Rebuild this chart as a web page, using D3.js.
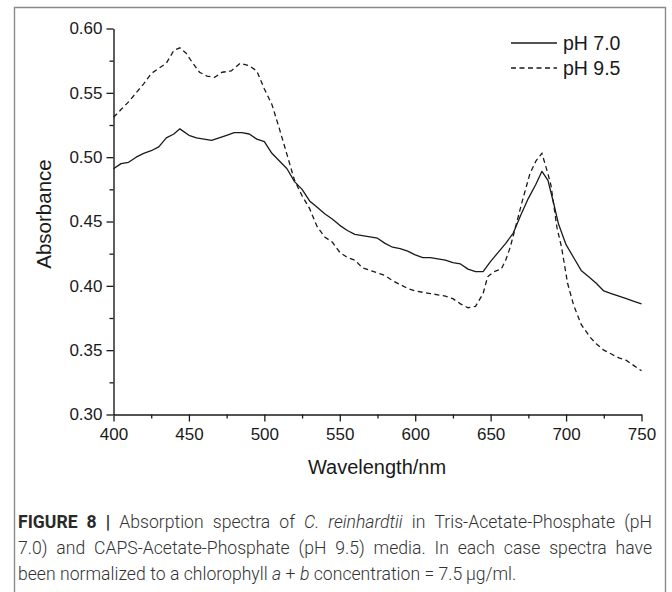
<!DOCTYPE html>
<html><head><meta charset="utf-8">
<script src="https://cdn.jsdelivr.net/npm/d3@7"></script>
<style>
body{margin:0;background:#fff;}
svg{display:block;font-family:"Liberation Sans",Arial,sans-serif;}
</style></head>
<body><svg id="c" width="672" height="592"></svg>
<script>
const wavelength7 = [400,405,410,415,420,425,430,435,440,444,450,455,460,465,470,475,480,485,490,495,500,505,510,515,520,525,530,535,540,545,550,555,560,565,570,575,580,585,590,595,600,605,610,615,620,625,630,635,640,645,650,655,660,665,670,675,680,684,688,692,695,700,705,710,715,720,725,730,735,740,745,750];
const absorb7 = [0.491,0.495,0.496,0.500,0.503,0.505,0.508,0.515,0.518,0.522,0.517,0.515,0.514,0.513,0.515,0.517,0.519,0.519,0.518,0.514,0.512,0.503,0.497,0.491,0.481,0.475,0.466,0.461,0.456,0.452,0.447,0.443,0.440,0.439,0.438,0.437,0.433,0.430,0.429,0.427,0.424,0.422,0.422,0.421,0.420,0.418,0.417,0.413,0.411,0.411,0.419,0.426,0.433,0.441,0.455,0.468,0.479,0.489,0.482,0.463,0.448,0.432,0.422,0.412,0.407,0.402,0.396,0.394,0.392,0.390,0.388,0.386];
const wavelength95 = [400,405,410,415,420,425,430,435,440,444,448,452,457,462,467,472,478,484,490,495,500,505,510,515,520,525,530,535,540,545,550,555,560,565,570,575,580,585,590,595,600,605,610,615,620,625,630,635,640,645,648,652,657,660,663,667,671,676,680,684,688,690,694,697,701,705,710,716,720,725,730,735,740,745,750];
const absorb95 = [0.531,0.537,0.543,0.550,0.557,0.565,0.569,0.573,0.583,0.585,0.581,0.574,0.566,0.563,0.562,0.566,0.567,0.573,0.571,0.567,0.553,0.541,0.522,0.502,0.482,0.470,0.460,0.446,0.438,0.434,0.426,0.422,0.420,0.414,0.412,0.410,0.408,0.404,0.401,0.398,0.396,0.395,0.394,0.393,0.392,0.390,0.386,0.383,0.384,0.394,0.407,0.411,0.413,0.420,0.430,0.448,0.466,0.487,0.497,0.503,0.487,0.478,0.445,0.430,0.402,0.385,0.370,0.360,0.355,0.350,0.347,0.344,0.342,0.338,0.334];
const xTicks = [400,450,500,550,600,650,700,750];
const yTicks = [0.30,0.35,0.40,0.45,0.50,0.55,0.60];
const seriesNames = ["pH 7.0","pH 9.5"];
const xTitle = "Wavelength/nm";
const yTitle = "Absorbance";
// caption words: [text, style] style: b=bold, i=italic, n=normal
const captionLines = [
  [["FIGURE","b"],["8","b"],["|","b"],["Absorption","n"],["spectra","n"],["of","n"],["C.","i"],["reinhardtii","i"],["in","n"],["Tris-Acetate-Phosphate","n"],["(pH","n"]],
  [["7.0)","n"],["and","n"],["CAPS-Acetate-Phosphate","n"],["(pH","n"],["9.5)","n"],["media.","n"],["In","n"],["each","n"],["case","n"],["spectra","n"],["have","n"]],
  [["been","n"],["normalized","n"],["to","n"],["a","n"],["chlorophyll","n"],["a","i"],["+","n"],["b","i"],["concentration","n"],["=","n"],["7.5\u2009\u00B5g/ml.","n"]]
];

const svg = d3.select("#c");
const ink = "#1a1a1a";
const x = d3.scaleLinear().domain([400,750]).range([113.5,641.5]);
const y = d3.scaleLinear().domain([0.30,0.60]).range([414.5,28.5]);

// frame
svg.append("path").attr("d","M14.5,600 V7.5 H665.5 V600").attr("fill","none").attr("stroke","#8a8a8a").attr("stroke-width",1.4);

const xMinor = d3.range(425,750,50);
const yMinor = d3.range(0.325,0.6,0.05);
const gx = svg.append("g").attr("transform","translate(0,414.5)");
gx.call(d3.axisBottom(x).tickValues(xTicks).tickFormat(d3.format("d")).tickSize(7).tickSizeOuter(0).tickPadding(6));
gx.append("g").call(d3.axisBottom(x).tickValues(xMinor).tickFormat("").tickSize(4)).select(".domain").remove();
const gy = svg.append("g").attr("transform","translate(113.5,0)");
gy.call(d3.axisLeft(y).tickValues(yTicks).tickFormat(d3.format(".2f")).tickSize(7).tickSizeOuter(0).tickPadding(4));
gy.append("g").call(d3.axisLeft(y).tickValues(yMinor).tickFormat("").tickSize(4)).select(".domain").remove();
svg.selectAll(".domain").attr("stroke",ink).attr("stroke-width",1.4);
svg.selectAll(".tick line").attr("stroke",ink).attr("stroke-width",1.3);
svg.selectAll(".tick text").attr("font-size",17).attr("fill",ink).attr("font-family","Liberation Sans, Arial, sans-serif");

svg.append("text").attr("x",377).attr("y",474).attr("text-anchor","middle").attr("font-size",20).attr("fill",ink).text(xTitle);
svg.append("text").attr("transform","translate(51,214) rotate(-90)").attr("text-anchor","middle").attr("font-size",20.5).attr("fill",ink).text(yTitle);

const line = d3.line().x(d=>x(d[0])).y(d=>y(d[1]));
const d7 = wavelength7.map((w,i)=>[w,absorb7[i]]);
const d95 = wavelength95.map((w,i)=>[w,absorb95[i]]);
svg.append("path").datum(d7).attr("d",line).attr("fill","none").attr("stroke",ink).attr("stroke-width",1.3).attr("stroke-linejoin","round");
svg.append("path").datum(d95).attr("d",line).attr("fill","none").attr("stroke",ink).attr("stroke-width",1.3).attr("stroke-dasharray","5,3.5");

// legend
const lg = svg.append("g");
[0,1].forEach(i=>{
  const yy = 43 + i*25;
  lg.append("line").attr("x1",511).attr("x2",557).attr("y1",yy).attr("y2",yy).attr("stroke",ink).attr("stroke-width",1.3).attr("stroke-dasharray", i?"5,3.5":null);
  lg.append("text").attr("x",563).attr("y",yy+7).attr("font-size",19.5).attr("fill",ink).text(seriesNames[i]);
});

// caption (justified, last line natural)
const capFont = 17.6;
const capLeft = 18, capRight = 652;
const capY = [528, 554, 580];
const cg = svg.append("g").attr("font-family","Roboto, 'Liberation Sans', sans-serif").attr("font-size",capFont).attr("fill","#333");
captionLines.forEach((words, li) => {
  const els = words.map(([t,s]) => cg.append("text").attr("y",capY[li])
      .attr("font-weight", s==="b"?700:300).attr("font-style", s==="i"?"italic":"normal")
      .attr("fill", s==="b"?"#2a2a2a":"#333").text(t));
  const widths = els.map(e=>e.node().getComputedTextLength());
  const total = d3.sum(widths);
  const natural = capFont*0.25;
  const gap = li < captionLines.length-1 ? Math.max(natural,(capRight-capLeft-total)/(words.length-1)) : natural;
  let cx = capLeft;
  els.forEach((e,i)=>{ e.attr("x",cx); cx += widths[i] + gap; });
});
</script></body></html>
